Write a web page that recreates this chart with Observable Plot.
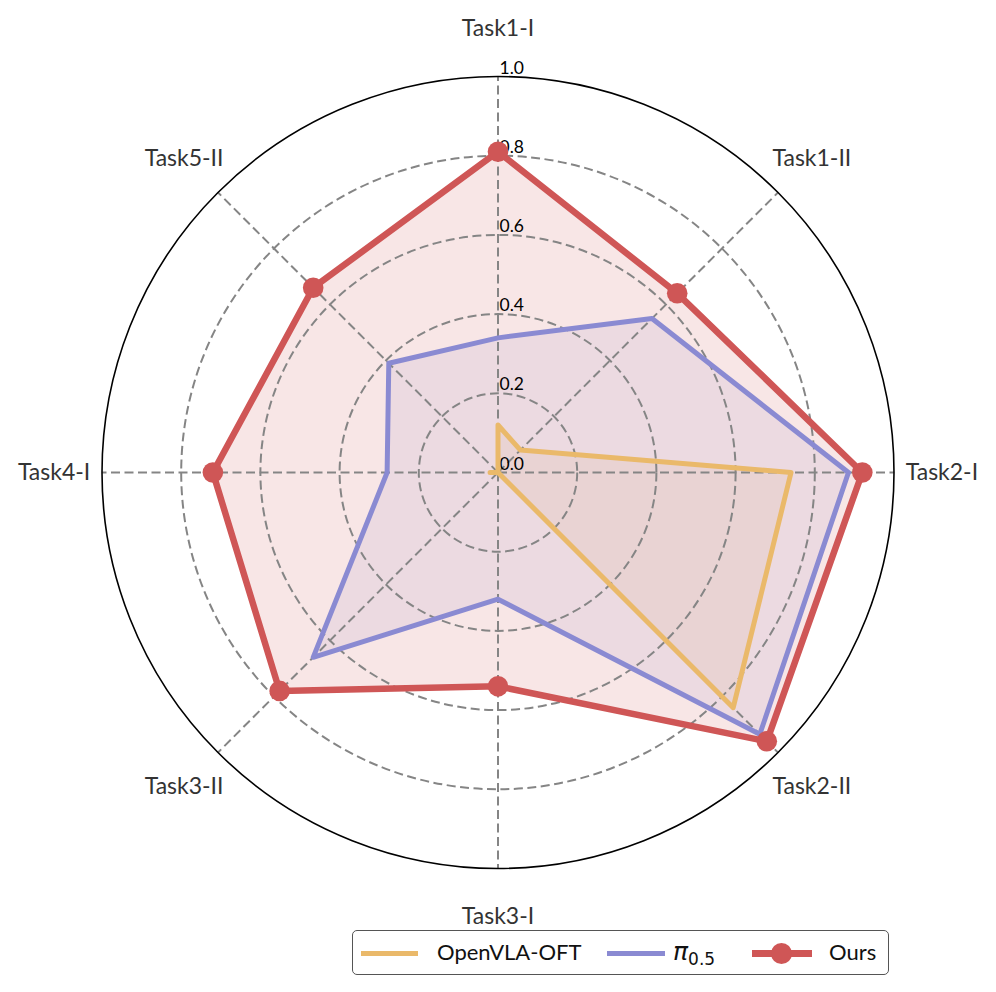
<!DOCTYPE html>
<html>
<head>
<meta charset="utf-8">
<script src="https://cdn.jsdelivr.net/npm/d3@7"></script>
<script src="https://cdn.jsdelivr.net/npm/@observablehq/plot@0.6"></script>
<style>
  html, body { margin: 0; padding: 0; background: #fff; }
  #wrap { position: relative; width: 996px; height: 992px; }
  #legend { position: absolute; left: 352px; top: 930px; width: 537px; height: 45px; box-sizing: border-box;
            border: 1.5px solid #555; border-radius: 5px; font-family: Lato, "Open Sans", sans-serif; font-size: 22px; color: #111; }
  #legend .sw { position: absolute; top: 20px; height: 5px; }
  #legend .lab { position: absolute; top: 7px; line-height: 28px; white-space: nowrap; }
  #legend sub { font-family: "DejaVu Sans", sans-serif; font-size: 17px; vertical-align: -5px; line-height: 0; }
</style>
</head>
<body>
<div id="wrap"><div id="chart"></div>
<div id="legend">
  <div class="sw" style="left:8px;width:57px;background:#eab96a"></div>
  <div class="lab" style="left:84px">OpenVLA-OFT</div>
  <div class="sw" style="left:254px;width:58px;background:#8a8ad2"></div>
  <div class="lab" style="left:320px"><i style="font-family:'DejaVu Sans',sans-serif;font-size:25px">π</i><sub>0.5</sub></div>
  <div class="sw" style="left:399px;width:60px;top:19px;height:7px;background:#cf5656"></div>
  <div style="position:absolute;left:418px;top:12px;width:21px;height:21px;border-radius:50%;background:#cf5656"></div>
  <div class="lab" style="left:476px">Ours</div>
</div>
</div>
<script>
// ---- data ----
const categories = ["Task1-I", "Task1-II", "Task2-I", "Task2-II", "Task3-I", "Task3-II", "Task4-I", "Task5-II"];
const openvlaOFT = [0.12, 0.08, 0.74, 0.84, 0.0, 0.0, 0.02, 0.0];
const pi05 = [0.34, 0.55, 0.885, 0.935, 0.32, 0.66, 0.28, 0.39];
const ours = [0.81, 0.64, 0.92, 0.96, 0.54, 0.78, 0.72, 0.66];
const rTicks = [0.0, 0.2, 0.4, 0.6, 0.8, 1.0];
const seriesNames = ["OpenVLA-OFT", "π0.5", "Ours"];
const seriesColors = ["#eab96a", "#8a8ad2", "#cf5656"];

// ---- geometry helpers ----
const N = categories.length;
const ang = i => i * 2 * Math.PI / N;
const series = [openvlaOFT, pi05, ours];
const pts = series.map((vals, s) => vals.map((v, i) => ({s, i, v, cat: categories[i]})));

const W = 996, H = 929, CX = 497.5, CY = 472, R = 396;
const X = d => d.v * Math.sin(ang(d.i));
const Y = d => d.v * Math.cos(ang(d.i));

const spokes = categories.map((c, i) => ({i, c}));
const fills = [0.13, 0.12, 0.15];
const widths = [5, 5, 6.5];

const marks = [];
// fills
pts.forEach((p, s) => {
  marks.push(Plot.line(p, {x: X, y: Y, curve: "linear-closed", stroke: "none", fill: seriesColors[s], fillOpacity: fills[s]}));
});
// grid circles
marks.push(Plot.dot(rTicks.filter(t => t > 0 && t < 1), {x: () => 0, y: () => 0, r: d => d, stroke: "#858585", strokeWidth: 2, strokeDasharray: "9,4.5", fill: "none"}));
// spokes
marks.push(Plot.link(spokes, {x1: 0, y1: 0, x2: d => Math.sin(ang(d.i)), y2: d => Math.cos(ang(d.i)), stroke: "#858585", strokeWidth: 2, strokeDasharray: "9,4.5"}));
// tick labels
marks.push(Plot.text(rTicks, {x: () => 0, y: d => d, text: d => d.toFixed(1), textAnchor: "start", lineAnchor: "bottom", dx: 1.5, dy: -3, fontSize: 17.5, fill: "#000", fontFamily: "Lato"}));
// outer circle
marks.push(Plot.dot([1], {x: () => 0, y: () => 0, r: d => d, stroke: "#000", strokeWidth: 1.6, fill: "none"}));
// series lines
pts.forEach((p, s) => {
  marks.push(Plot.line(p, {x: X, y: Y, curve: "linear-closed", stroke: seriesColors[s], strokeWidth: widths[s], strokeLinejoin: "round"}));
});
// markers for Ours
marks.push(Plot.dot(pts[2], {x: X, y: Y, r: () => 10.3 / R, fill: seriesColors[2], stroke: "none"}));
// category labels
marks.push(Plot.text(spokes, {x: d => 1.121 * Math.sin(ang(d.i)), y: d => 1.121 * Math.cos(ang(d.i)), text: d => d.c, fontSize: 23, fill: "#333", fontFamily: "Lato"}));

const chart = Plot.plot({
  width: W, height: H,
  margin: 0, marginTop: 0, marginRight: 0, marginBottom: 0, marginLeft: 0,
  x: {type: "linear", domain: [-CX / R, (W - CX) / R], axis: null},
  y: {type: "linear", domain: [(CY - H) / R, CY / R], axis: null},
  r: {type: "linear", domain: [0, 1], range: [0, R]},
  style: {fontFamily: "Lato", background: "#fff"},
  marks
});
document.getElementById("chart").appendChild(chart);
</script>
</body>
</html>
